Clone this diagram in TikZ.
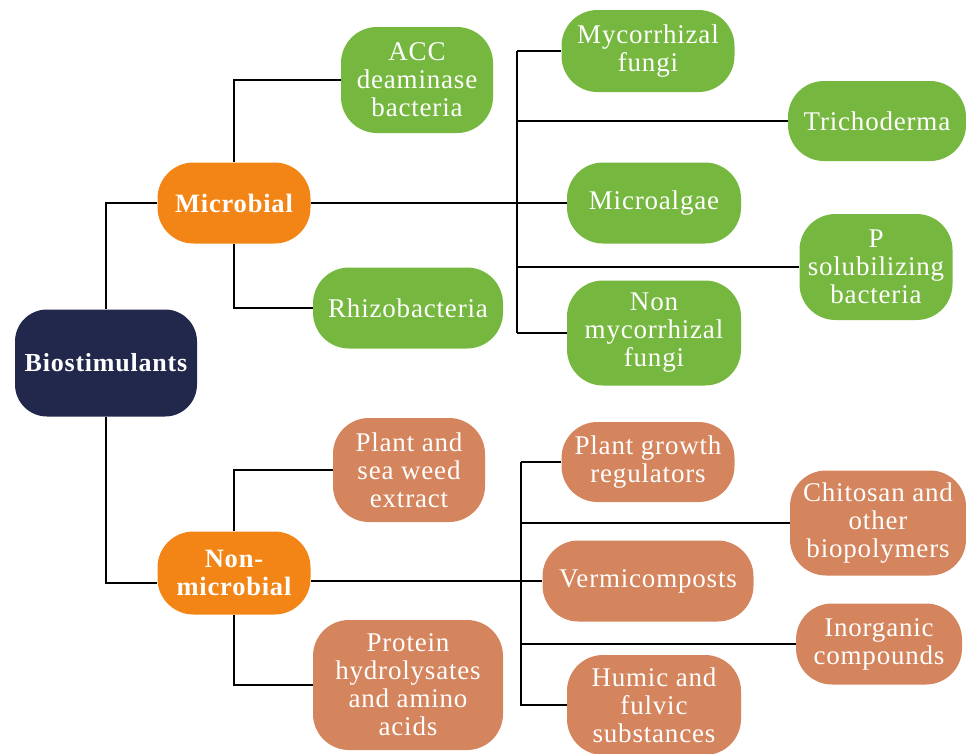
\documentclass[tikz,border=0pt]{standalone}
\usepackage{fontspec}
\setmainfont{Liberation Serif}[LetterSpace=3]
\definecolor{navy}{HTML}{22284B}
\definecolor{orng}{HTML}{F28515}
\definecolor{grn}{HTML}{76B83F}
\definecolor{salm}{HTML}{D4855E}
\begin{document}
\begin{tikzpicture}[x=1pt,y=-1pt,
  box/.style={rounded corners=36pt, inner sep=0pt, align=center, text=white,
     font=\fontsize{27}{28}\selectfont},
  gbox/.style={box, fill=grn},
  sbox/.style={box, fill=salm},
  obox/.style={box, fill=orng, font=\fontsize{26.5}{28}\selectfont\bfseries},
  conn/.style={line width=1.6pt, black}]
\useasboundingbox (0,0) rectangle (966,753);
% main nodes
\node[box, fill=navy, rounded corners=32pt, minimum width=182pt, minimum height=107pt,
      font=\fontsize{26}{28}\selectfont\bfseries] (bio) at (106,363) {Biostimulants};
\node[obox, minimum width=153pt, minimum height=81pt] (mic) at (234,203) {Microbial};
\node[obox, minimum width=153pt, minimum height=83pt] (non) at (234,573) {Non-\\microbial};
% microbial children
\node[gbox, minimum width=152pt, minimum height=106pt] (acc) at (417,80) {ACC\\deaminase\\bacteria};
\node[gbox, minimum width=190pt, minimum height=81pt] (rhi) at (408,308) {Rhizobacteria};
\node[gbox, minimum width=173pt, minimum height=82pt] (myc) at (648,51) {Mycorrhizal\\fungi};
\node[gbox, minimum width=178pt, minimum height=80pt] (tri) at (877,121) {Trichoderma};
\node[gbox, minimum width=174pt, minimum height=81pt] (mia) at (654,203) {Microalgae};
\node[gbox, minimum width=153pt, minimum height=106pt] (psb) at (876,267) {P\\solubilizing\\bacteria};
\node[gbox, minimum width=174pt, minimum height=105pt] (nmf) at (654,333) {Non\\mycorrhizal\\fungi};
% non-microbial children
\node[sbox, minimum width=152pt, minimum height=104pt] (pse) at (409,470) {Plant and\\sea weed\\extract};
\node[sbox, minimum width=190pt, minimum height=130pt] (pro) at (408,685) {Protein\\hydrolysates\\and amino\\acids};
\node[sbox, minimum width=173pt, minimum height=80pt] (pgr) at (648,462) {Plant growth\\regulators};
\node[sbox, minimum width=176pt, minimum height=105pt] (chi) at (878,523) {Chitosan and\\other\\biopolymers};
\node[sbox, minimum width=211pt, minimum height=81pt] (ver) at (648,581) {Vermicomposts};
\node[sbox, minimum width=166pt, minimum height=81pt] (ino) at (879,644) {Inorganic\\compounds};
\node[sbox, minimum width=174pt, minimum height=100pt] (hum) at (654,705) {Humic and\\fulvic\\substances};
% trunk coordinates
\coordinate (mt) at (517,51);
\coordinate (mb) at (517,333);
\coordinate (nt) at (521,462);
\coordinate (nb) at (521,706);
% connectors
\draw[conn] (bio.north) |- (mic.west);
\draw[conn] (bio.south) |- ([yshift=-10pt]non.west);
\draw[conn] (mic.north) |- (acc.west);
\draw[conn] (mic.south) |- (rhi.west);
\draw[conn] (mic.east) -- (mia.west);
\draw[conn] (mt) -- (mb);
\draw[conn] (mt) -- (myc.west);
\draw[conn] (tri.west) -- (tri.west -| mt);
\draw[conn] (psb.west) -- (psb.west -| mt);
\draw[conn] (nmf.west) -- (nmf.west -| mt);
\draw[conn] (non.north) |- (pse.west);
\draw[conn] (non.south) |- (pro.west);
\draw[conn] (ver.west) -- (ver.west -| non.east);
\draw[conn] (nt) -- (nb);
\draw[conn] (nt) -- (pgr.west);
\draw[conn] (chi.west) -- (chi.west -| nt);
\draw[conn] (ino.west) -- (ino.west -| nt);
\draw[conn] (hum.west) -- (hum.west -| nt);
\end{tikzpicture}
\end{document}
